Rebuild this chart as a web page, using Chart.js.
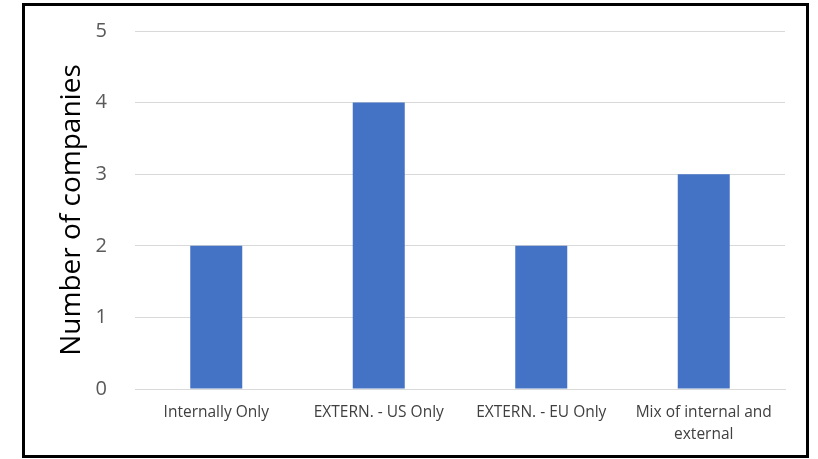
<!DOCTYPE html>
<html>
<head>
<meta charset="utf-8">
<script src="https://cdn.jsdelivr.net/npm/chart.js@4/dist/chart.umd.min.js"></script>
<style>
  html, body { margin: 0; padding: 0; background: #fff; }
  #wrap { position: relative; width: 818px; height: 459px; }
  #frame {
    position: absolute; left: 22px; top: 3px; width: 781px; height: 449px;
    border: 3px solid #000; pointer-events: none;
  }
</style>
</head>
<body>
<div id="wrap">
  <canvas id="companyChart" width="818" height="459"></canvas>
  <div id="frame"></div>
</div>
<script>
const categories = [
  'Internally Only',
  'EXTERN. - US Only',
  'EXTERN. - EU Only',
  ['Mix of internal and', 'external']
];
const companyCounts = [2, 4, 2, 3];
const yTicks = [0, 1, 2, 3, 4, 5];

const ctx = document.getElementById('companyChart').getContext('2d');
const chart = new Chart(ctx, {
  type: 'bar',
  data: {
    labels: categories,
    datasets: [{
      label: 'Number of companies',
      data: companyCounts,
      backgroundColor: '#4472C4',
      borderWidth: 0,
      categoryPercentage: 1,
      barPercentage: 0.32
    }]
  },
  options: {
    responsive: false,
    animation: false,
    layout: { padding: { left: 55, right: 33, top: 31, bottom: 0 } },
    scales: {
      x: {
        grid: { display: false, drawTicks: false },
        border: { display: true, color: '#D9D9D9', width: 1 },
        ticks: {
          padding: 12,
          maxRotation: 0,
          autoSkip: false,
          color: '#404040',
          font: { family: 'Open Sans', size: 15.5, lineHeight: 1.45 }
        },
        afterFit: scale => { scale.height = 70; }
      },
      y: {
        min: 0,
        max: 5,
        afterBuildTicks: scale => { scale.ticks = yTicks.map(v => ({ value: v })); },
        grid: { color: '#D9D9D9', lineWidth: 1, drawTicks: false },
        border: { display: false },
        ticks: {
          padding: 28,
          color: '#595959',
          font: { family: 'Open Sans', size: 20 }
        },
        title: {
          display: true,
          text: 'Number of companies',
          color: '#000',
          padding: 0,
          font: { family: 'Open Sans', size: 28 }
        },
        afterFit: scale => {
          // the wide tick padding should not push the plot area down
          scale.width = 80;
          scale.paddingTop = 0;
          scale.paddingBottom = 0;
        }
      }
    },
    plugins: {
      legend: { display: false },
      tooltip: { enabled: false }
    }
  }
});
</script>
</body>
</html>
